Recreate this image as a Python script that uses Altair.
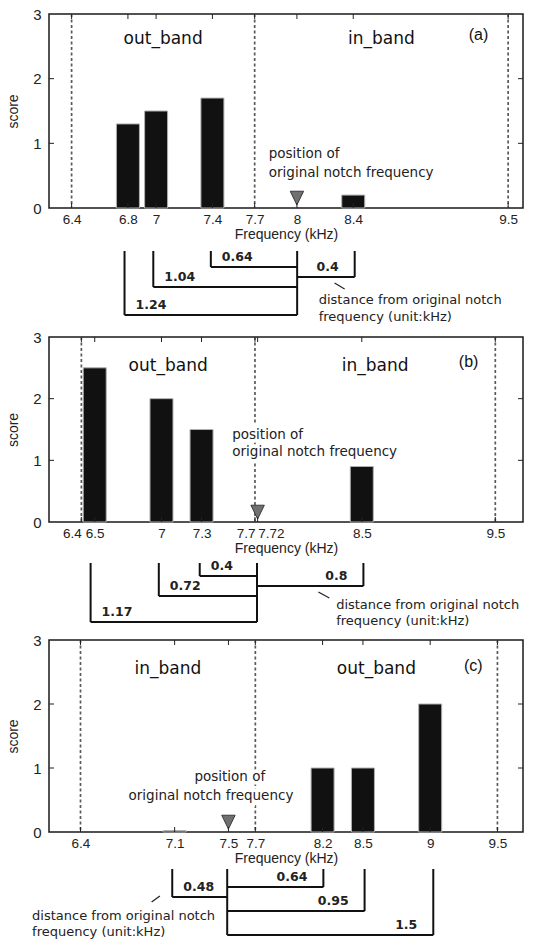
import altair as alt
import pandas as pd

# ---------------------------------------------------------------- data
BAND_EDGES = [6.4, 7.7, 9.5]

# panel (a)
A_FREQ = [6.8, 7.0, 7.4, 8.4]
A_SCORE = [1.3, 1.5, 1.7, 0.2]
A_NOTCH = 8.0
A_TICKS = [6.4, 6.8, 7.0, 7.4, 7.7, 8.0, 8.4, 9.5]
A_BANDS = ["out_band", "in_band"]
A_DIST_FREQ = [7.4, 8.4, 7.0, 6.8]
A_DIST_LABEL = ["0.64", "0.4", "1.04", "1.24"]

# panel (b)
B_FREQ = [6.5, 7.0, 7.3, 8.5]
B_SCORE = [2.5, 2.0, 1.5, 0.9]
B_NOTCH = 7.72
B_TICKS = [6.4, 6.5, 7.0, 7.3, 7.7, 7.72, 8.5, 9.5]
B_BANDS = ["out_band", "in_band"]
B_DIST_FREQ = [7.3, 8.5, 7.0, 6.5]
B_DIST_LABEL = ["0.4", "0.8", "0.72", "1.17"]

# panel (c)
C_FREQ = [7.1, 8.2, 8.5, 9.0]
C_SCORE = [0.02, 1.0, 1.0, 2.0]
C_NOTCH = 7.5
C_TICKS = [6.4, 7.1, 7.5, 7.7, 8.2, 8.5, 9.0, 9.5]
C_BANDS = ["in_band", "out_band"]
C_DIST_FREQ = [8.2, 7.1, 8.5, 9.0]
C_DIST_LABEL = ["0.64", "0.48", "0.95", "1.5"]

NOTCH_TEXT = ["position of", "original notch frequency"]
CAPTION = ["distance from original notch", "frequency (unit:kHz)"]

# ---------------------------------------------------------------- style
W = 474
SANS = "Liberation Sans"
VERD = "DejaVu Sans"
INK = "#111111"


def bar_panel(freq, score, notch, ticks, bands, tag, x_dom, h,
              align_map, notch_pos, tag_pos, band_y):
    xs = alt.Scale(domain=x_dom, nice=False, zero=False)
    ys = alt.Scale(domain=[0, 3], nice=False, zero=True)
    align_expr = "'center'"
    for v, a in align_map.items():
        align_expr = f"datum.value == {v} ? '{a}' : ({align_expr})"
    x_axis = alt.Axis(values=ticks, labelExpr="'' + datum.value",
                      ticks=False, domain=False,
                      grid=False, labelFont=SANS, labelFontSize=13.5,
                      labelColor="#222", labelPadding=4,
                      labelAlign={"expr": align_expr}, labelOverlap=False,
                      labelFlush=False,
                      title="Frequency (kHz)", titleFont=SANS,
                      titleFontSize=14, titleFontWeight="normal",
                      titleColor="#222", titlePadding=2)
    y_axis = alt.Axis(values=[0, 1, 2, 3], ticks=False, domain=False,
                      grid=False, labelFont=SANS, labelFontSize=15,
                      labelColor="#222", labelPadding=8, title="score",
                      titleFont=SANS, titleFontSize=14,
                      titleFontWeight="normal", titleColor="#222",
                      titlePadding=12)

    X = alt.X("f:Q", scale=xs, axis=x_axis)
    Y = alt.Y("s:Q", scale=ys, axis=y_axis)

    bars_df = pd.DataFrame({"f": freq, "s": score})
    bars = alt.Chart(bars_df).mark_bar(
        size=23, color=INK, stroke="#b0b0b0", strokeWidth=1
    ).encode(x=X, y=Y)

    edges = alt.Chart(pd.DataFrame({"f": BAND_EDGES})).mark_rule(
        color="#5a5a5a", strokeWidth=1.7, strokeDash=[3, 2.5]
    ).encode(x=X)

    # notch annotation (two lines, white halo so the dashed edge breaks)
    (nx1, ny1, nx2, ny2, nalign) = notch_pos
    ntext = pd.DataFrame({"f": [nx1, nx2], "s": [ny1, ny2], "t": NOTCH_TEXT})
    halo = alt.Chart(ntext).mark_text(
        font=VERD, fontSize=13.5, align=nalign, baseline="middle",
        stroke="white", strokeWidth=7, color="white"
    ).encode(x=X, y=Y, text="t:N")
    note = alt.Chart(ntext).mark_text(
        font=VERD, fontSize=13.5, align=nalign, baseline="middle",
        color="#222"
    ).encode(x=X, y=Y, text="t:N")

    # band names centred in each band
    mids = [(BAND_EDGES[0] + BAND_EDGES[1]) / 2,
            (BAND_EDGES[1] + BAND_EDGES[2]) / 2]
    band_df = pd.DataFrame({"f": mids, "s": [band_y, band_y], "t": bands})
    band_txt = alt.Chart(band_df).mark_text(
        font=VERD, fontSize=17, baseline="middle", color="#111"
    ).encode(x=X, y=Y, text="t:N")

    tag_df = pd.DataFrame({"f": [tag_pos[0]], "s": [tag_pos[1]], "t": [tag]})
    tag_txt = alt.Chart(tag_df).mark_text(
        font=SANS, fontSize=16, baseline="middle", color="#111"
    ).encode(x=X, y=Y, text="t:N")

    # notch marker: downward triangle resting on the baseline
    tri = alt.Chart(pd.DataFrame({"f": [notch], "s": [0]})).mark_point(
        shape="M-1,-2.5L1,-2.5L0,-0.45Z", size=180, filled=True,
        fill="#707070", stroke="#3a3a3a", strokeWidth=1, opacity=1
    ).encode(x=X, y=Y)

    # inward tick marks on all four sides
    tick_df = pd.DataFrame({"f": ticks})
    bot = alt.Chart(tick_df).mark_rule(color="#222", strokeWidth=1).encode(
        x=X, y=alt.value(h), y2=alt.value(h - 5))
    top = alt.Chart(tick_df).mark_rule(color="#222", strokeWidth=1).encode(
        x=X, y=alt.value(0), y2=alt.value(5))
    ytick_df = pd.DataFrame({"s": [1, 2]})
    lft = alt.Chart(ytick_df).mark_rule(color="#222", strokeWidth=1).encode(
        y=Y, x=alt.value(0), x2=alt.value(5))
    rgt = alt.Chart(ytick_df).mark_rule(color="#222", strokeWidth=1).encode(
        y=Y, x=alt.value(W), x2=alt.value(W - 5))

    return alt.layer(
        edges, halo, note, bars, tri, band_txt, tag_txt, bot, top, lft, rgt
    ).properties(width=W, height=h,
                 view=alt.ViewBackground(stroke="#1a1a1a", strokeWidth=1.5))


def bracket_panel(dist_freq, dist_label, notch, rows, x_dom, y_dom, h,
                  cap_x, cap_rows, leader):
    xs = alt.Scale(domain=x_dom, nice=False, zero=False)
    ys = alt.Scale(domain=y_dom, nice=False, zero=False, reverse=True)
    X = alt.X("f:Q", scale=xs, axis=None)

    df = pd.DataFrame({"f": dist_freq, "lab": dist_label, "d": rows})
    df["n"] = notch
    df["top"] = 0
    left = df[df["f"] < notch]
    right = df[df["f"] > notch]

    line = dict(color=INK, strokeWidth=2)
    vert = alt.Chart(df).mark_rule(**line).encode(
        x=X, y=alt.Y("top:Q", scale=ys, axis=None), y2="d:Q")
    horiz = alt.Chart(df).mark_rule(**line).encode(
        x=X, x2="n:Q", y=alt.Y("d:Q", scale=ys, axis=None))
    stem = alt.Chart(pd.DataFrame({"f": [notch], "top": [0],
                                   "d": [max(rows)]})).mark_rule(**line).encode(
        x=X, y=alt.Y("top:Q", scale=ys, axis=None), y2="d:Q")

    lab = dict(font=VERD, fontSize=12.5, fontWeight="bold", color="#222",
               baseline="middle", dy=-10)
    lab_l = alt.Chart(left).mark_text(align="left", dx=11, **lab).encode(
        x=X, y=alt.Y("d:Q", scale=ys, axis=None), text="lab:N")
    lab_r = alt.Chart(right).mark_text(align="right", dx=-16, **lab).encode(
        x=X, y=alt.Y("d:Q", scale=ys, axis=None), text="lab:N")

    cap_df = pd.DataFrame({"f": [cap_x, cap_x], "d": cap_rows, "t": CAPTION})
    cap = alt.Chart(cap_df).mark_text(
        font=VERD, fontSize=13, align="left", baseline="middle", color="#222"
    ).encode(x=X, y=alt.Y("d:Q", scale=ys, axis=None), text="t:N")

    ld = pd.DataFrame({"f": [leader[0]], "f2": [leader[2]],
                       "d": [leader[1]], "d2": [leader[3]]})
    lead = alt.Chart(ld).mark_rule(color="#222", strokeWidth=1.2).encode(
        x=X, x2="f2:Q", y=alt.Y("d:Q", scale=ys, axis=None), y2="d2:Q")

    return alt.layer(vert, horiz, stem, lab_l, lab_r, cap, lead).properties(
        width=W, height=h)


A_DOM = [6.275, 9.57]
B_DOM = [6.195, 9.67]
C_DOM = [6.203, 9.653]

pa = bar_panel(A_FREQ, A_SCORE, A_NOTCH, A_TICKS, A_BANDS, "(a)", A_DOM, 194,
               {}, (7.8, 0.83, 7.8, 0.54, "left"), (9.29, 2.68), 2.62)
ba = bracket_panel(A_DIST_FREQ, A_DIST_LABEL, A_NOTCH, [16, 26, 36, 64],
                   A_DOM, [-8, 78], 86, 8.15, [49, 66], (8.26, 32, 8.33, 38))

pb = bar_panel(B_FREQ, B_SCORE, B_NOTCH, B_TICKS, B_BANDS, "(b)", B_DOM, 185,
               {6.4: "right", 7.7: "right", 7.72: "left"},
               (7.53, 1.41, 7.53, 1.13, "left"), (9.3, 2.6), 2.53)
bb = bracket_panel(B_DIST_FREQ, B_DIST_LABEL, B_NOTCH, [13, 23, 33, 59],
                   B_DOM, [-6, 69], 75, 8.3, [42, 58], (8.17, 29, 8.25, 35))

pc = bar_panel(C_FREQ, C_SCORE, C_NOTCH, C_TICKS, C_BANDS, "(c)", C_DOM, 192,
               {}, (7.51, 0.86, 7.37, 0.56, "center"), (9.32, 2.6), 2.55)
bc = bracket_panel(C_DIST_FREQ, C_DIST_LABEL, C_NOTCH, [18, 28, 42, 66],
                   C_DOM, [-2, 70], 72, 6.08, [47, 63], (6.95, 33, 7.01, 27))

chart = alt.vconcat(pa, ba, pb, bb, pc, bc, spacing=0).properties(
    padding={"left": 5, "top": 6, "right": 5, "bottom": 0},
    background="white",
).configure_view(stroke=None).configure_concat(spacing=0)

chart.save("out.html", embed_options={"renderer": "svg", "actions": False})
